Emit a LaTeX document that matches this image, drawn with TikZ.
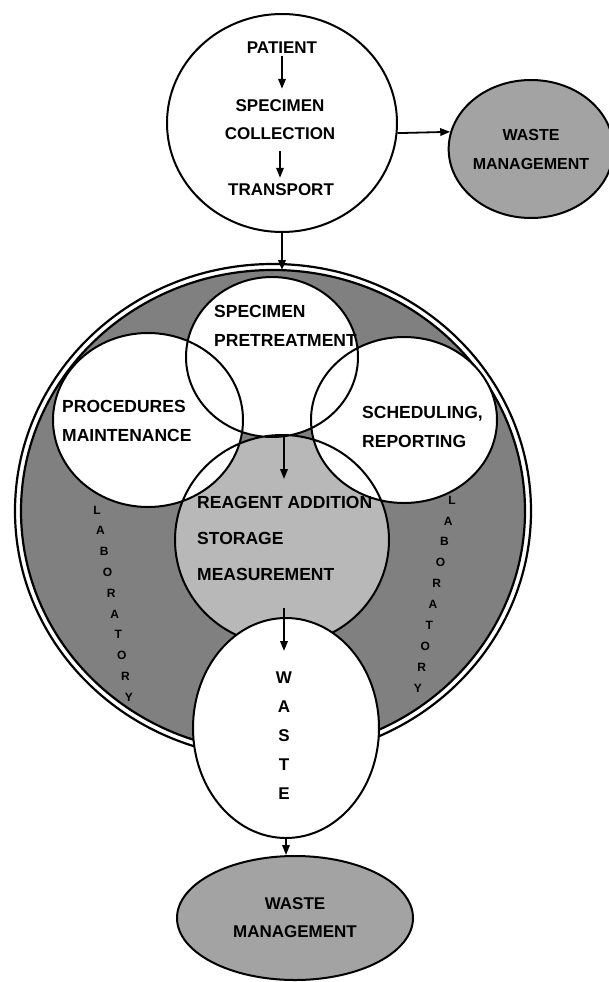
\documentclass[tikz,border=0pt]{standalone}
\usepackage{fontspec}
\setmainfont{Liberation Sans}
\usetikzlibrary{shapes.geometric,arrows.meta}
\definecolor{ringgray}{gray}{0.5}
\definecolor{reagentgray}{gray}{0.72}
\definecolor{mgmtgray}{gray}{0.64}
\begin{document}
\begin{tikzpicture}[x=1pt,y=-1pt,
        bubble/.style={ellipse,draw,line width=2pt,inner sep=0pt},
        flow/.style={line width=1.8pt,-{Triangle[length=10pt,width=7.5pt]}},
        toptext/.style={font=\bfseries\fontsize{17}{28}\selectfont,align=center,inner sep=2pt},
        labtext/.style={font=\bfseries\fontsize{17.5}{29}\selectfont,align=left,inner sep=0pt,anchor=west},
        letter/.style={font=\bfseries\fontsize{12}{12}\selectfont,inner sep=0pt}]
        \useasboundingbox (0,0) rectangle (608,982);
        %% patient circle
        \node[bubble,minimum width=230pt,minimum height=218pt] (top) at (282,123) {};
        \node[toptext] (patient) at (282,48) {PATIENT};
        \node[toptext] (collect) at (280,120) {SPECIMEN\\COLLECTION};
        \node[toptext] (transport) at (281,190) {TRANSPORT};
        \draw[flow,shorten >=9pt] (patient.south) -- (patient.south |- collect.north);
        \draw[flow,shorten <=9pt,shorten >=4pt] (collect.south) -- (collect.south |- transport.north);
        %% waste management, right
        \node[bubble,fill=mgmtgray,minimum width=152pt,minimum height=138pt,
            font=\bfseries\fontsize{16}{29}\selectfont,align=center] (wmright) at (531,149) {WASTE\\MANAGEMENT};
        \draw[flow] (top.-5) -- (wmright.168);
        %% laboratory ring
        \draw[line width=2.2pt,fill=white] (273,511) ellipse (258 and 247);
        \draw[line width=2.2pt,fill=ringgray] (273,511) ellipse (252 and 241);
        \coordinate (ringtop) at (282,270);
        \draw[flow] (top.south) -- (ringtop);
        %% inner circles
        \fill[reagentgray] (282,540) ellipse (107 and 105);
        \fill[white] (272,357) ellipse (86 and 80) (148,420) ellipse (95 and 87) (404,420) ellipse (93 and 83);
        \draw[line width=2pt] (282,540) ellipse (107 and 105) (272,357) ellipse (86 and 80)
            (148,420) ellipse (95 and 87) (404,420) ellipse (93 and 83);
        \node[labtext] (pretreat) at (214,326) {SPECIMEN\\PRETREATMENT};
        \node[labtext] (procs) at (62,421) {PROCEDURES\\MAINTENANCE};
        \node[labtext] (sched) at (362,427) {SCHEDULING,\\REPORTING};
        \node[labtext,font=\bfseries\fontsize{17.5}{36}\selectfont] (reagent) at (197,538) {REAGENT ADDITION\\STORAGE\\MEASUREMENT};
        \coordinate (pre1) at (284,437);
        \coordinate (pre2) at (284,479);
        \draw[flow] (pre1) -- (pre2);
        %% laboratory letters
        \foreach \c [count=\i from 0] in {L,A,B,O,R,A,T,O,R,Y} {
            \node[letter] (labl\i) at ({97+3.55*\i},{510+20.8*\i}) {\c};
            \node[letter] (labr\i) at ({452-3.8*\i},{500+20.9*\i}) {\c};
        }
        %% waste
        \node[bubble,fill=white,minimum width=186pt,minimum height=220pt] (waste) at (286,728) {};
        \node[toptext,font=\bfseries\fontsize{17}{29}\selectfont] (wasteword) at (284,736) {W\\A\\S\\T\\E};
        \coordinate (ws1) at (284,608);
        \coordinate (ws2) at (284,651);
        \draw[flow] (ws1) -- (ws2);
        %% waste management, bottom
        \node[bubble,fill=mgmtgray,minimum width=236pt,minimum height=124pt,
            font=\bfseries\fontsize{17}{28}\selectfont,align=center] (wmbottom) at (295,918) {WASTE\\MANAGEMENT};
        \draw[flow] (waste.south) -- (waste.south |- wmbottom.north);
\end{tikzpicture}
\end{document}
